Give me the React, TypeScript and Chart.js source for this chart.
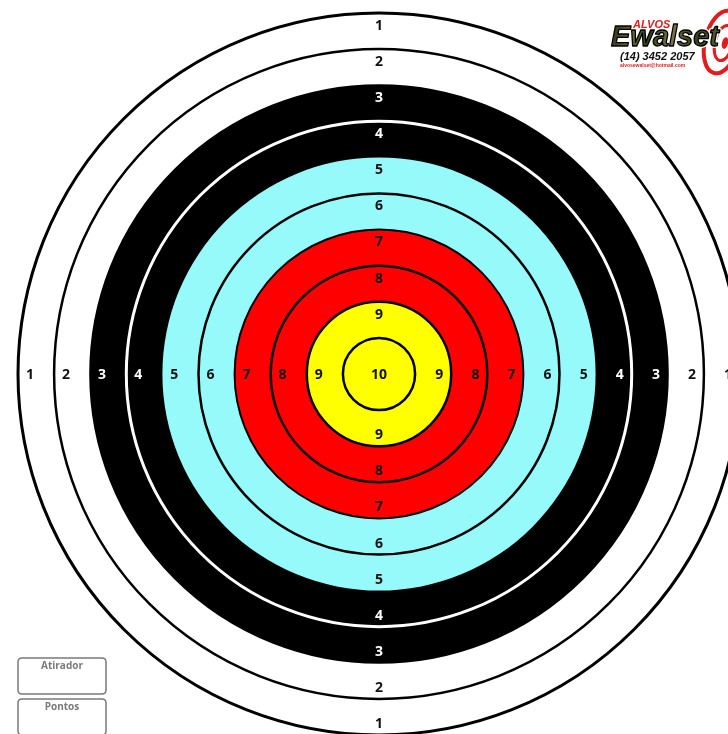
import React, { useEffect, useRef } from 'react';
import { Chart, registerables } from 'chart.js';

Chart.register(...registerables);

// ---- data ----
const ringScores = [10, 9, 8, 7, 6, 5, 4, 3, 2, 1]; // innermost first
const ringOuterValues = [1, 2, 3, 4, 5, 6, 7, 8, 9, 10]; // outer edge of each ring (scale units)
const ringColors = ['#ffff00', '#ffff00', '#ff0000', '#ff0000', '#96fafa', '#96fafa', '#000000', '#000000', '#ffffff', '#ffffff'];
const ringLabelColors = ['#111', '#111', '#111', '#111', '#111', '#111', '#ffffff', '#ffffff', '#111', '#111'];
// boundary line at value 1..10
const boundaryColors = ['#000', '#000', '#000', '#000', '#000', 'rgba(0,0,0,0)', '#ffffff', '#000', '#000', '#000'];
const boundaryWidths = [2.5, 2.5, 2.5, 2, 2.5, 0, 3, 2, 2.5, 3];
const boxTitles = ['Atirador', 'Pontos'];
const logoBrand = 'Ewalset';
const logoTop = 'ALVOS';
const logoPhone = '(14) 3452 2057';
const logoMail = 'alvosewalset@hotmail.com';

const LABEL_INSET = 0.33;

function roundRect(ctx: CanvasRenderingContext2D, x: number, y: number, w: number, h: number, r: number) {
  ctx.beginPath();
  ctx.moveTo(x + r, y);
  ctx.lineTo(x + w - r, y);
  ctx.quadraticCurveTo(x + w, y, x + w, y + r);
  ctx.lineTo(x + w, y + h - r);
  ctx.quadraticCurveTo(x + w, y + h, x + w - r, y + h);
  ctx.lineTo(x + r, y + h);
  ctx.quadraticCurveTo(x, y + h, x, y + h - r);
  ctx.lineTo(x, y + r);
  ctx.quadraticCurveTo(x, y, x + r, y);
  ctx.closePath();
}

const targetPlugin = {
  id: 'targetDecor',
  afterDraw(chart: any) {
    const scale = chart.scales.r;
    const ctx: CanvasRenderingContext2D = chart.ctx;
    const cx = scale.xCenter;
    const cy = scale.yCenter;
    ctx.save();
    ctx.font = 'bold 14px "Open Sans"';
    ctx.textAlign = 'center';
    ctx.textBaseline = 'middle';
    ringScores.forEach((score, i) => {
      ctx.fillStyle = ringLabelColors[i];
      if (i === 0) {
        ctx.fillText(String(score), cx, cy + 1);
        return;
      }
      const d = scale.getDistanceFromCenterForValue(ringOuterValues[i] - LABEL_INSET);
      const dirs = [[0, -1], [0, 1], [-1, 0], [1, 0]];
      dirs.forEach(([dx, dy]) => ctx.fillText(String(score), cx + dx * d, cy + dy * d + 1));
    });

    // score boxes
    boxTitles.forEach((t, i) => {
      const y = 658 + i * 41;
      roundRect(ctx, 18, y, 88, 36, 4);
      ctx.fillStyle = '#ffffff';
      ctx.fill();
      ctx.strokeStyle = '#7a7a7a';
      ctx.lineWidth = 1.5;
      ctx.stroke();
      ctx.fillStyle = '#7a7a7a';
      ctx.font = 'bold 10px "Open Sans"';
      ctx.fillText(t, 62, y + 8);
    });

    // logo
    ctx.fillStyle = '#ffffff';
    ctx.fillRect(604, 12, 124, 58);
    ctx.strokeStyle = '#e21b1b';
    ctx.lineWidth = 4;
    ctx.beginPath();
    ctx.ellipse(722, 42, 17, 32, 0.25, 0, Math.PI * 2);
    ctx.stroke();
    ctx.lineWidth = 3;
    ctx.beginPath();
    ctx.ellipse(724, 43, 9, 18, 0.25, 0, Math.PI * 2);
    ctx.stroke();
    ctx.fillStyle = '#e21b1b';
    ctx.beginPath();
    ctx.ellipse(725, 43, 3, 6, 0.25, 0, Math.PI * 2);
    ctx.fill();

    ctx.textAlign = 'left';
    ctx.textBaseline = 'alphabetic';
    ctx.font = 'italic bold 11px "Liberation Sans"';
    ctx.fillStyle = '#e02020';
    ctx.fillText(logoTop, 633, 28);

    ctx.font = 'italic bold 29px "Liberation Sans"';
    const g = ctx.createLinearGradient(612, 25, 720, 45);
    g.addColorStop(0, '#2f3318');
    g.addColorStop(0.2, '#6d6a3c');
    g.addColorStop(0.35, '#2c3a18');
    g.addColorStop(0.55, '#807547');
    g.addColorStop(0.75, '#34401c');
    g.addColorStop(1, '#5c5a32');
    ctx.lineJoin = 'round';
    ctx.strokeStyle = '#ffffff';
    ctx.lineWidth = 4;
    ctx.strokeText(logoBrand, 611, 46);
    ctx.fillStyle = g;
    ctx.fillText(logoBrand, 611, 46);
    ctx.strokeStyle = '#000000';
    ctx.lineWidth = 1.3;
    ctx.strokeText(logoBrand, 611, 46);

    ctx.font = 'italic bold 11px "Liberation Sans"';
    ctx.fillStyle = '#111111';
    ctx.fillText(logoPhone, 620, 60);
    ctx.font = 'bold 5px "Liberation Sans"';
    ctx.fillStyle = '#e02020';
    ctx.fillText(logoMail, 620, 67);
    ctx.restore();
  },
};

export default function App() {
  const canvasRef = useRef<HTMLCanvasElement | null>(null);

  useEffect(() => {
    const canvas = canvasRef.current;
    if (!canvas) return;
    const chart = new Chart(canvas, {
      type: 'polarArea',
      data: {
        labels: [''],
        datasets: ringScores.map((score, i) => ({
          label: String(score),
          data: [ringOuterValues[i]],
          backgroundColor: ringColors[i],
          borderWidth: 0,
        })),
      },
      options: {
        responsive: false,
        animation: false,
        events: [],
        layout: { padding: { left: 18, right: 18, top: 13, bottom: 13 } },
        plugins: {
          legend: { display: false },
          tooltip: { enabled: false },
        },
        scales: {
          r: {
            min: 0,
            max: 10,
            ticks: { display: false, stepSize: 1, z: 1 },
            angleLines: { display: false },
            pointLabels: { display: false },
            grid: {
              z: 1,
              circular: true,
              color: (c: any) => boundaryColors[Math.round(c.tick.value) - 1] || 'rgba(0,0,0,0)',
              lineWidth: (c: any) => boundaryWidths[Math.round(c.tick.value) - 1] || 0,
            },
          },
        },
      },
      plugins: [targetPlugin],
    } as any);
    return () => chart.destroy();
  }, []);

  return (
    <div style={{ position: 'fixed', left: 0, top: 0, width: 728, height: 734, overflow: 'hidden', background: '#ffffff' }}>
      <canvas ref={canvasRef} width={758} height={748} style={{ display: 'block', width: 758, height: 748 }} />
    </div>
  );
}
